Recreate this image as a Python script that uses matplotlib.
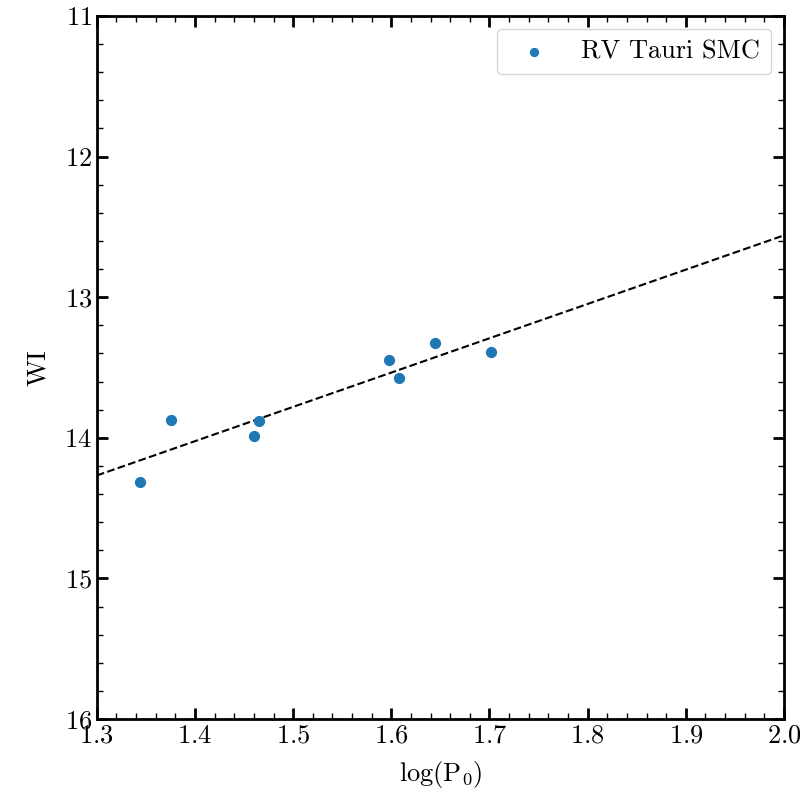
import matplotlib
matplotlib.use("Agg")
import matplotlib.pyplot as plt
import numpy as np
from matplotlib.ticker import MultipleLocator

plt.rcParams["font.family"] = "serif"
plt.rcParams["font.serif"] = ["cmr10", "DejaVu Serif"]
plt.rcParams["mathtext.fontset"] = "cm"
plt.rcParams["axes.formatter.use_mathtext"] = True

# data
logP = [1.3438, 1.3757, 1.4604, 1.4648, 1.5979, 1.6081, 1.6448, 1.7019]
WI = [14.315, 13.874, 13.988, 13.881, 13.448, 13.576, 13.326, 13.392]

# fitted relation WI = a + b*logP
fit_a = 17.44
fit_b = -2.44
fit_x = [1.3, 2.0]

fig = plt.figure(figsize=(8, 8), dpi=100)
ax = fig.add_axes([0.121, 0.10125, 0.859, 0.87875])

ax.scatter(logP, WI, s=50, color="#1f77b4", zorder=3, label="RV Tauri SMC")
xf = np.array(fit_x)
ax.plot(xf, fit_a + fit_b * xf, "k--", lw=1.5)

ax.set_xlim(1.3, 2.0)
ax.set_ylim(16, 11)
ax.xaxis.set_major_locator(MultipleLocator(0.1))
ax.xaxis.set_minor_locator(MultipleLocator(0.02))
ax.yaxis.set_major_locator(MultipleLocator(1))
ax.yaxis.set_minor_locator(MultipleLocator(0.2))
ax.tick_params(which="both", direction="in", top=True, right=True, labelsize=19)
ax.tick_params(which="major", length=8, width=2)
ax.tick_params(which="minor", length=4, width=1)
for sp in ax.spines.values():
    sp.set_linewidth(2)

ax.set_xlabel(r"log(P$_0$)", fontsize=19, labelpad=8)
ax.set_ylabel("WI", fontsize=19, labelpad=10)
ax.legend(loc="upper right", fontsize=19, scatterpoints=1, markerscale=0.8)

fig.savefig("out.png")
